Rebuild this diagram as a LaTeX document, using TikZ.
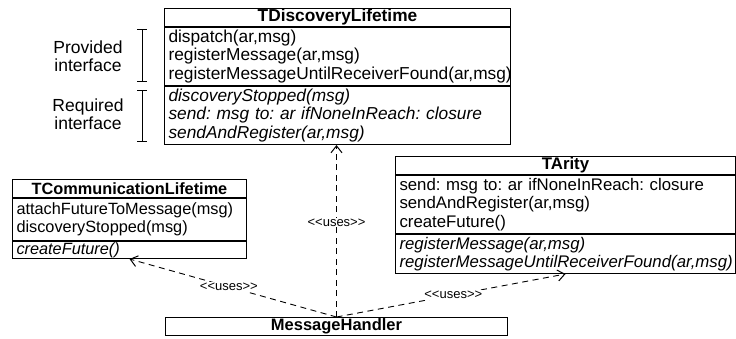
\documentclass[tikz,border=0pt]{standalone}
\usepackage{fontspec}
\setmainfont{Liberation Sans}
\usetikzlibrary{arrows.meta}
\frenchspacing

\tikzset{
  classhead/.style={draw=black, line width=1pt, anchor=north west,
    inner sep=0pt, minimum height=#1},
  classpart/.style={draw=black, line width=1pt, anchor=north west,
    inner xsep=4pt, inner ysep=0pt, align=left, minimum height=#1},
  dlfont/.style={font=\fontsize{17.3pt}{18.6pt}\selectfont},
  dlbold/.style={font=\fontsize{17.3pt}{18.6pt}\selectfont\bfseries},
  tafont/.style={font=\fontsize{16.8pt}{18.3pt}\selectfont},
  tabold/.style={font=\fontsize{16.8pt}{18.3pt}\selectfont\bfseries},
  clfont/.style={font=\fontsize{16.3pt}{18.2pt}\selectfont},
  clbold/.style={font=\fontsize{16.3pt}{18.2pt}\selectfont\bfseries},
  mhbold/.style={font=\fontsize{16.5pt}{18pt}\selectfont\bfseries},
  uses/.style={draw=black, line width=0.9pt, dash pattern=on 6pt off 4.5pt,
    -{Straight Barb[length=7pt,width=11pt,line width=1pt]}},
  useslabel/.style={fill=white, inner sep=1pt, font=\fontsize{13pt}{14pt}\selectfont},
  sidelabel/.style={align=center, font=\fontsize{17.5pt}{18.5pt}\selectfont},
  bracket/.style={draw=black, line width=1pt}
}

\begin{document}
\begin{tikzpicture}[x=1pt, y=-1pt]
  \useasboundingbox (0,0) rectangle (736,338);

  % TDiscoveryLifetime
  \node[classhead=18pt, dlbold, minimum width=346pt] (dl) at (164,8) {TDiscoveryLifetime};
  \node[classpart=58pt, dlfont, text width=338pt] (dlp) at (dl.south west)
    {dispatch(ar,msg)\\registerMessage(ar,msg)\\registerMessageUntilReceiverFound(ar,msg)};
  \node[classpart=58pt, dlfont, text width=338pt] (dlr) at (dlp.south west)
    {\itshape discoveryStopped(msg)\\\itshape send: msg to: ar ifNoneInReach: closure\\\itshape sendAndRegister(ar,msg)};

  % interface brackets
  \coordinate (pt) at (142,29.5);  \coordinate (pb) at (142,81);
  \coordinate (rt) at (142,90.5);  \coordinate (rb) at (142,141.5);
  \draw[bracket] (pt) -- (pb);
  \draw[bracket] ([xshift=-5pt]pt) -- ([xshift=5pt]pt);
  \draw[bracket] ([xshift=-5pt]pb) -- ([xshift=5pt]pb);
  \draw[bracket] (rt) -- (rb);
  \draw[bracket] ([xshift=-5pt]rt) -- ([xshift=5pt]rt);
  \draw[bracket] ([xshift=-5pt]rb) -- ([xshift=5pt]rb);
  \node[sidelabel] (prov) at (88,56) {Provided\\interface};
  \node[sidelabel] (req) at (88,114) {Required\\interface};

  % TCommunicationLifetime
  \node[classhead=18pt, clbold, minimum width=234pt] (cl) at (12,179) {TCommunicationLifetime};
  \node[classpart=42pt, clfont, text width=226pt] (clp) at (cl.south west)
    {attachFutureToMessage(msg)\\discoveryStopped(msg)};
  \node[classpart=17pt, clfont, text width=226pt] (clr) at (clp.south west)
    {\itshape createFuture()};

  % TArity
  \node[classhead=18pt, tabold, minimum width=340pt] (ta) at (395,156) {TArity};
  \node[classpart=58pt, tafont, text width=332pt] (tap) at (ta.south west)
    {send: msg to: ar ifNoneInReach: closure\\sendAndRegister(ar,msg)\\createFuture()};
  \node[classpart=39pt, tafont, text width=332pt] (tar) at (tap.south west)
    {\itshape registerMessage(ar,msg)\\\itshape registerMessageUntilReceiverFound(ar,msg)};

  % MessageHandler
  \node[classhead=18pt, mhbold, minimum width=342pt] (mh) at (165,317) {MessageHandler};

  % dependencies
  \draw[uses] (mh.north) -- node[useslabel, pos=0.55] {{<}{<}uses{>}{>}} (mh.north |- dlr.south);
  \draw[uses] (mh.north) -- node[useslabel, pos=0.52] {{<}{<}uses{>}{>}} (clr.south);
  \draw[uses] (mh.north) -- node[useslabel, pos=0.51] {{<}{<}uses{>}{>}} (tar.south);
\end{tikzpicture}
\end{document}
